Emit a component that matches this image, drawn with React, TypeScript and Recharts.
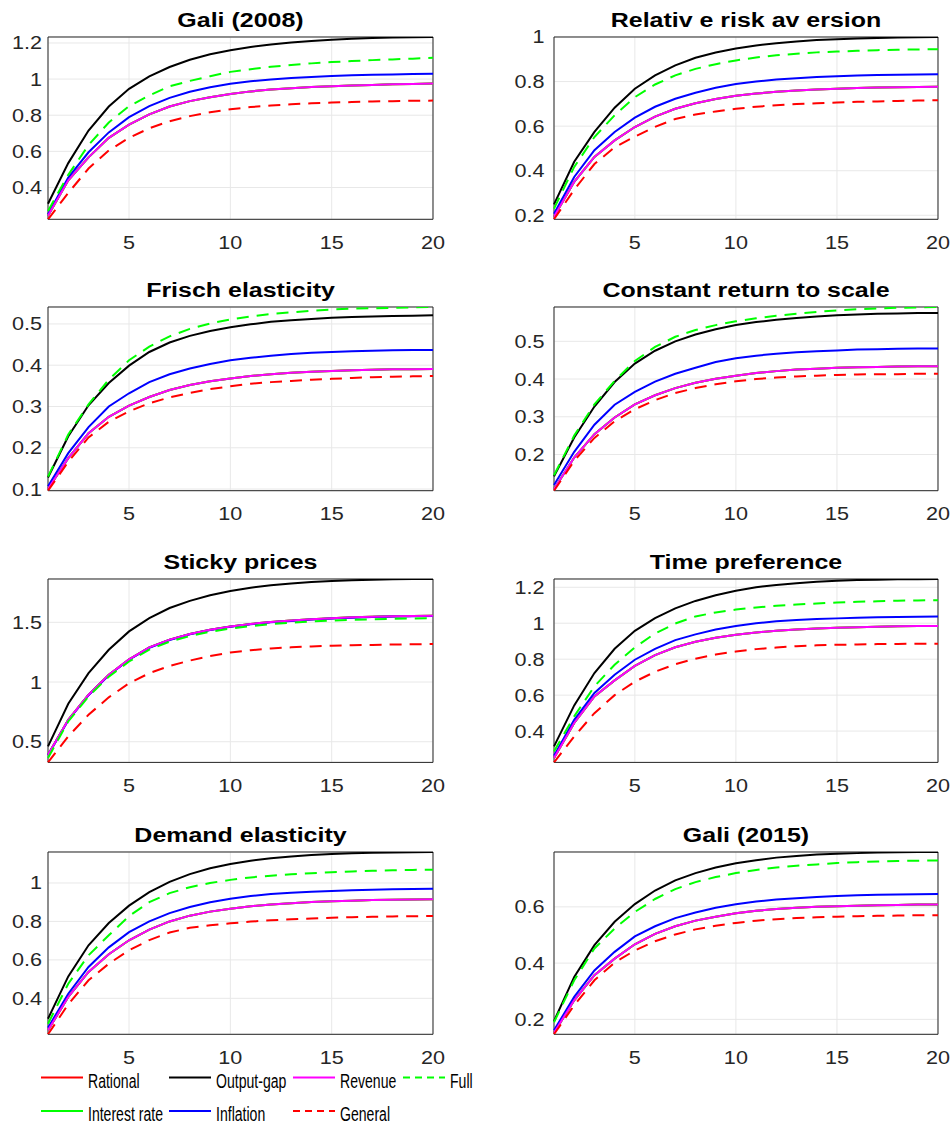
import React from "react";
import { LineChart, Line, XAxis, YAxis, CartesianGrid, ReferenceArea } from "recharts";

// periods on the x axis
const periods = [1, 2, 3, 4, 5, 6, 7, 8, 9, 10, 11, 12, 13, 14, 15, 16, 17, 18, 19, 20];

// values (Rational and Interest rate sit under Revenue)
const gali2008 = {
  outputGap: [0.31, 0.535, 0.715, 0.848, 0.946, 1.015, 1.067, 1.107, 1.137, 1.16, 1.178, 1.192, 1.203, 1.211, 1.218, 1.223, 1.227, 1.23, 1.232, 1.233],
  full: [0.27, 0.47, 0.635, 0.76, 0.85, 0.91, 0.96, 0.99, 1.016, 1.04, 1.055, 1.068, 1.078, 1.087, 1.094, 1.1, 1.105, 1.109, 1.113, 1.118],
  inflation: [0.252, 0.455, 0.595, 0.705, 0.789, 0.85, 0.896, 0.93, 0.955, 0.974, 0.988, 0.998, 1.006, 1.012, 1.017, 1.021, 1.024, 1.026, 1.028, 1.03],
  revenue: [0.243, 0.44, 0.567, 0.675, 0.748, 0.805, 0.848, 0.878, 0.9, 0.918, 0.932, 0.942, 0.95, 0.956, 0.961, 0.965, 0.968, 0.971, 0.973, 0.975],
  general: [0.224, 0.37, 0.505, 0.605, 0.675, 0.728, 0.767, 0.795, 0.817, 0.833, 0.845, 0.854, 0.861, 0.866, 0.87, 0.873, 0.876, 0.878, 0.88, 0.881],
};

const riskAversion = {
  outputGap: [0.249, 0.44, 0.574, 0.683, 0.768, 0.828, 0.873, 0.907, 0.93, 0.948, 0.962, 0.972, 0.98, 0.986, 0.99, 0.993, 0.996, 0.998, 0.999, 1.0],
  full: [0.23, 0.417, 0.551, 0.649, 0.73, 0.787, 0.828, 0.857, 0.878, 0.895, 0.908, 0.918, 0.925, 0.931, 0.935, 0.938, 0.941, 0.943, 0.944, 0.945],
  inflation: [0.207, 0.372, 0.492, 0.574, 0.638, 0.687, 0.723, 0.75, 0.772, 0.789, 0.8, 0.809, 0.815, 0.82, 0.824, 0.827, 0.829, 0.831, 0.832, 0.833],
  revenue: [0.193, 0.35, 0.462, 0.536, 0.596, 0.643, 0.678, 0.703, 0.722, 0.736, 0.746, 0.754, 0.76, 0.764, 0.768, 0.771, 0.773, 0.775, 0.776, 0.777],
  general: [0.182, 0.315, 0.43, 0.505, 0.553, 0.597, 0.632, 0.652, 0.666, 0.678, 0.687, 0.694, 0.699, 0.703, 0.706, 0.709, 0.711, 0.713, 0.715, 0.716],
};

const frisch = {
  outputGap: [0.128, 0.228, 0.303, 0.357, 0.399, 0.432, 0.455, 0.471, 0.483, 0.492, 0.499, 0.505, 0.509, 0.512, 0.515, 0.517, 0.518, 0.519, 0.52, 0.521],
  full: [0.13, 0.232, 0.305, 0.365, 0.412, 0.445, 0.47, 0.488, 0.501, 0.511, 0.518, 0.524, 0.528, 0.532, 0.535, 0.537, 0.538, 0.539, 0.54, 0.541],
  inflation: [0.107, 0.187, 0.25, 0.3, 0.332, 0.359, 0.378, 0.392, 0.403, 0.412, 0.418, 0.423, 0.427, 0.43, 0.432, 0.434, 0.435, 0.436, 0.437, 0.437],
  revenue: [0.1, 0.175, 0.235, 0.275, 0.302, 0.323, 0.34, 0.352, 0.361, 0.368, 0.374, 0.378, 0.382, 0.384, 0.386, 0.388, 0.389, 0.39, 0.39, 0.391],
  general: [0.096, 0.166, 0.225, 0.263, 0.288, 0.308, 0.322, 0.333, 0.342, 0.349, 0.355, 0.359, 0.362, 0.365, 0.367, 0.369, 0.371, 0.372, 0.373, 0.374],
};

const constantReturn = {
  outputGap: [0.142, 0.245, 0.327, 0.392, 0.441, 0.475, 0.5, 0.518, 0.532, 0.543, 0.551, 0.557, 0.562, 0.566, 0.569, 0.571, 0.573, 0.574, 0.575, 0.575],
  full: [0.145, 0.25, 0.333, 0.395, 0.448, 0.485, 0.512, 0.53, 0.543, 0.553, 0.561, 0.568, 0.573, 0.578, 0.582, 0.585, 0.587, 0.589, 0.59, 0.591],
  inflation: [0.119, 0.207, 0.279, 0.332, 0.366, 0.393, 0.414, 0.43, 0.445, 0.455, 0.462, 0.467, 0.471, 0.474, 0.476, 0.478, 0.479, 0.48, 0.481, 0.481],
  revenue: [0.108, 0.192, 0.254, 0.298, 0.333, 0.357, 0.376, 0.39, 0.401, 0.409, 0.416, 0.421, 0.425, 0.427, 0.43, 0.431, 0.432, 0.433, 0.434, 0.434],
  general: [0.104, 0.183, 0.244, 0.288, 0.32, 0.344, 0.363, 0.376, 0.386, 0.394, 0.4, 0.404, 0.407, 0.409, 0.411, 0.412, 0.413, 0.413, 0.414, 0.414],
};

const stickyPrices = {
  outputGap: [0.461, 0.818, 1.075, 1.27, 1.424, 1.536, 1.62, 1.68, 1.727, 1.763, 1.79, 1.81, 1.826, 1.838, 1.847, 1.853, 1.857, 1.86, 1.862, 1.863],
  full: [0.363, 0.67, 0.88, 1.045, 1.172, 1.272, 1.338, 1.385, 1.421, 1.448, 1.469, 1.485, 1.497, 1.507, 1.515, 1.521, 1.526, 1.53, 1.532, 1.534],
  inflation: [0.388, 0.68, 0.89, 1.057, 1.187, 1.287, 1.352, 1.4, 1.435, 1.463, 1.484, 1.5, 1.512, 1.523, 1.532, 1.539, 1.544, 1.548, 1.551, 1.553],
  revenue: [0.391, 0.684, 0.894, 1.06, 1.19, 1.29, 1.355, 1.402, 1.438, 1.466, 1.487, 1.503, 1.515, 1.526, 1.535, 1.542, 1.547, 1.551, 1.554, 1.556],
  general: [0.327, 0.545, 0.726, 0.872, 0.99, 1.074, 1.135, 1.18, 1.218, 1.248, 1.267, 1.281, 1.291, 1.298, 1.304, 1.308, 1.311, 1.314, 1.316, 1.318],
};

const timePreference = {
  outputGap: [0.315, 0.543, 0.723, 0.858, 0.958, 1.028, 1.083, 1.124, 1.156, 1.181, 1.2, 1.213, 1.223, 1.231, 1.236, 1.24, 1.242, 1.244, 1.245, 1.246],
  full: [0.287, 0.482, 0.649, 0.769, 0.866, 0.943, 0.998, 1.038, 1.06, 1.076, 1.088, 1.097, 1.104, 1.11, 1.115, 1.119, 1.122, 1.125, 1.127, 1.128],
  inflation: [0.263, 0.463, 0.612, 0.714, 0.797, 0.857, 0.906, 0.938, 0.965, 0.985, 1.0, 1.011, 1.018, 1.023, 1.027, 1.03, 1.033, 1.035, 1.036, 1.037],
  revenue: [0.25, 0.445, 0.593, 0.682, 0.763, 0.823, 0.866, 0.897, 0.919, 0.936, 0.949, 0.958, 0.965, 0.97, 0.975, 0.978, 0.981, 0.983, 0.984, 0.985],
  general: [0.226, 0.37, 0.5, 0.6, 0.675, 0.73, 0.772, 0.803, 0.826, 0.843, 0.856, 0.865, 0.872, 0.877, 0.88, 0.882, 0.884, 0.885, 0.886, 0.886],
};

const demandElasticity = {
  outputGap: [0.294, 0.514, 0.676, 0.792, 0.882, 0.952, 1.006, 1.046, 1.076, 1.099, 1.116, 1.129, 1.138, 1.145, 1.15, 1.154, 1.157, 1.159, 1.16, 1.161],
  full: [0.268, 0.476, 0.624, 0.728, 0.828, 0.9, 0.947, 0.978, 1.0, 1.016, 1.029, 1.038, 1.045, 1.051, 1.056, 1.06, 1.063, 1.066, 1.068, 1.069],
  inflation: [0.247, 0.424, 0.563, 0.665, 0.744, 0.8, 0.843, 0.875, 0.9, 0.918, 0.932, 0.942, 0.949, 0.954, 0.958, 0.962, 0.965, 0.967, 0.969, 0.97],
  revenue: [0.234, 0.407, 0.537, 0.629, 0.702, 0.757, 0.8, 0.83, 0.851, 0.866, 0.879, 0.888, 0.895, 0.901, 0.905, 0.908, 0.911, 0.913, 0.914, 0.915],
  general: [0.213, 0.369, 0.494, 0.58, 0.65, 0.703, 0.742, 0.767, 0.78, 0.79, 0.799, 0.806, 0.811, 0.815, 0.819, 0.822, 0.824, 0.826, 0.827, 0.828],
};

const gali2015 = {
  outputGap: [0.194, 0.351, 0.464, 0.547, 0.61, 0.658, 0.694, 0.72, 0.74, 0.755, 0.766, 0.775, 0.781, 0.786, 0.789, 0.791, 0.793, 0.794, 0.795, 0.795],
  full: [0.19, 0.339, 0.452, 0.523, 0.582, 0.628, 0.663, 0.688, 0.706, 0.72, 0.731, 0.74, 0.746, 0.751, 0.756, 0.759, 0.761, 0.763, 0.764, 0.765],
  inflation: [0.161, 0.28, 0.374, 0.44, 0.495, 0.531, 0.56, 0.58, 0.597, 0.609, 0.619, 0.626, 0.631, 0.635, 0.639, 0.641, 0.643, 0.644, 0.645, 0.646],
  revenue: [0.152, 0.268, 0.357, 0.416, 0.467, 0.504, 0.531, 0.551, 0.565, 0.577, 0.586, 0.592, 0.597, 0.6, 0.602, 0.604, 0.606, 0.607, 0.608, 0.608],
  general: [0.147, 0.25, 0.339, 0.402, 0.445, 0.478, 0.502, 0.52, 0.533, 0.543, 0.551, 0.556, 0.56, 0.563, 0.565, 0.567, 0.568, 0.569, 0.57, 0.57],
};

const xTicks = [5, 10, 15, 20];

const panels = [
  { title: "Gali (2008)", data: gali2008, ticks: [0.4, 0.6, 0.8, 1, 1.2] },
  { title: "Relativ e risk av ersion", data: riskAversion, ticks: [0.2, 0.4, 0.6, 0.8, 1] },
  { title: "Frisch elasticity", data: frisch, ticks: [0.1, 0.2, 0.3, 0.4, 0.5] },
  { title: "Constant return to scale", data: constantReturn, ticks: [0.2, 0.3, 0.4, 0.5] },
  { title: "Sticky prices", data: stickyPrices, ticks: [0.5, 1, 1.5] },
  { title: "Time preference", data: timePreference, ticks: [0.4, 0.6, 0.8, 1, 1.2] },
  { title: "Demand elasticity", data: demandElasticity, ticks: [0.4, 0.6, 0.8, 1] },
  { title: "Gali (2015)", data: gali2015, ticks: [0.2, 0.4, 0.6] },
];

const DASH = "12 8";

// drawing order (later ones on top)
const series = [
  { key: "rational", name: "Rational", color: "#ff0000", dash: undefined },
  { key: "interest", name: "Interest rate", color: "#00ff00", dash: undefined },
  { key: "outputGap", name: "Output-gap", color: "#000000", dash: undefined },
  { key: "inflation", name: "Inflation", color: "#0000ff", dash: undefined },
  { key: "revenue", name: "Revenue", color: "#ff00ff", dash: undefined },
  { key: "general", name: "General", color: "#ff0000", dash: DASH },
  { key: "full", name: "Full", color: "#00ff00", dash: DASH },
];

// page layout of the plot boxes
const COL_LEFT = [48, 554];
const COL_RIGHT = [433, 938];
const ROW_TOP = [36.7, 307.3, 579.3, 851.7];
const ROW_BOTTOM = [219, 491, 762.7, 1034];
const Y_AXIS_W = 48;
const M_TOP = 10;
const M_RIGHT = 14;
const X_AXIS_H = 40;

const FONT = "'Liberation Sans', Arial, sans-serif";
const AXIS = "#262626";

function Panel({ index }: { index: number }) {
  const p = panels[index];
  const col = index % 2;
  const row = Math.floor(index / 2);
  const plotW = COL_RIGHT[col] - COL_LEFT[col];
  const plotH = ROW_BOTTOM[row] - ROW_TOP[row];
  const W = Y_AXIS_W + plotW + M_RIGHT;
  const H = M_TOP + plotH + X_AXIS_H;
  const d = p.data;

  const rows = periods.map((t, i) => ({
    t,
    rational: d.revenue[i],
    interest: d.revenue[i],
    outputGap: d.outputGap[i],
    inflation: d.inflation[i],
    revenue: d.revenue[i],
    general: d.general[i],
    full: d.full[i],
  }));
  const all = [...d.outputGap, ...d.full, ...d.inflation, ...d.revenue, ...d.general];
  const lo = Math.min(...all);
  const hi = Math.max(...all);

  const labelX = col === 0 ? Y_AXIS_W - 6 : Y_AXIS_W - 9.5;
  const xLabelY = M_TOP + plotH + 29.5;

  const yTick = (props: any) => (
    <text
      x={labelX}
      y={props.y}
      dy={6.5}
      textAnchor="end"
      fontFamily={FONT}
      fontSize={18}
      fill={AXIS}
      transform={`translate(${labelX} 0) scale(1.2 1) translate(${-labelX} 0)`}
    >
      {String(props.payload.value)}
    </text>
  );
  const xTick = (props: any) => (
    <text
      x={props.x}
      y={xLabelY}
      textAnchor="middle"
      fontFamily={FONT}
      fontSize={18}
      fill={AXIS}
      transform={`translate(${props.x} 0) scale(1.2 1) translate(${-props.x} 0)`}
    >
      {String(props.payload.value)}
    </text>
  );

  return (
    <>
      <div
        style={{
          position: "absolute",
          left: COL_LEFT[col],
          top: ROW_TOP[row] - 17 - 12,
          width: plotW,
          height: 24,
          lineHeight: "24px",
          textAlign: "center",
          fontFamily: FONT,
          fontWeight: "bold",
          fontSize: 19.5,
          color: "#000",
          whiteSpace: "pre",
          transform: "scaleX(1.28)",
        }}
      >
        {p.title}
      </div>
      <div style={{ position: "absolute", left: COL_LEFT[col] - Y_AXIS_W, top: ROW_TOP[row] - M_TOP }}>
        <LineChart width={W} height={H} data={rows} margin={{ top: M_TOP, right: M_RIGHT, bottom: 0, left: 0 }}>
          <CartesianGrid stroke="#e8e8e8" strokeWidth={1} />
          <XAxis
            dataKey="t"
            type="number"
            domain={[1, 20]}
            ticks={xTicks}
            height={X_AXIS_H}
            axisLine={false}
            tickLine={false}
            tick={xTick}
            interval={0}
          />
          <XAxis
            xAxisId="top"
            orientation="top"
            dataKey="t"
            type="number"
            domain={[1, 20]}
            ticks={xTicks}
            height={0}
            mirror
            axisLine={false}
            tickLine={{ stroke: AXIS }}
            tickSize={4}
            tick={false}
            interval={0}
          />
          <YAxis
            type="number"
            domain={[lo, hi]}
            allowDataOverflow
            ticks={p.ticks}
            width={Y_AXIS_W}
            axisLine={false}
            tickLine={false}
            tick={yTick}
            interval={0}
          />
          <YAxis
            yAxisId="right"
            orientation="right"
            type="number"
            domain={[lo, hi]}
            allowDataOverflow
            ticks={p.ticks}
            width={0}
            mirror
            axisLine={false}
            tickLine={{ stroke: AXIS }}
            tickSize={4}
            tick={false}
            interval={0}
          />
          <ReferenceArea x1={1} x2={20} y1={lo} y2={hi} fill="none" fillOpacity={0} stroke={AXIS} strokeWidth={1} />
          {series.map((s) => (
            <Line
              key={s.key}
              dataKey={s.key}
              type="linear"
              stroke={s.color}
              strokeWidth={2}
              strokeDasharray={s.dash}
              dot={false}
              activeDot={false}
              isAnimationActive={false}
            />
          ))}
        </LineChart>
      </div>
    </>
  );
}

// legend layout, two rows as in the figure
const legendRows = [
  [
    { name: "Rational", x: 41 },
    { name: "Output-gap", x: 169 },
    { name: "Revenue", x: 293 },
    { name: "Full", x: 403 },
  ],
  [
    { name: "Interest rate", x: 41 },
    { name: "Inflation", x: 169 },
    { name: "General", x: 293 },
  ],
];

function Legend() {
  const lineY = [17.5, 51];
  const textY = [28.5, 61];
  return (
    <svg width={952} height={70} style={{ position: "absolute", left: 0, top: 1060 }}>
      {legendRows.map((r, ri) =>
        r.map((item) => {
          const s = series.find((q) => q.name === item.name)!;
          const tx = item.x + 47;
          return (
            <g key={item.name}>
              <line
                x1={item.x}
                x2={item.x + 42}
                y1={lineY[ri]}
                y2={lineY[ri]}
                stroke={s.color}
                strokeWidth={2}
                strokeDasharray={s.dash ? "7 5" : undefined}
              />
              <text
                x={tx}
                y={textY[ri]}
                fontFamily={FONT}
                fontSize={21}
                fill="#000"
                transform={`translate(${tx} 0) scale(0.67 1) translate(${-tx} 0)`}
              >
                {item.name}
              </text>
            </g>
          );
        })
      )}
    </svg>
  );
}

export default function App() {
  return (
    <div
      style={{
        position: "absolute",
        left: 0,
        top: 0,
        width: 952,
        height: 1130,
        overflow: "hidden",
        background: "#fff",
      }}
    >
      {panels.map((_, i) => (
        <Panel key={i} index={i} />
      ))}
      <Legend />
    </div>
  );
}
